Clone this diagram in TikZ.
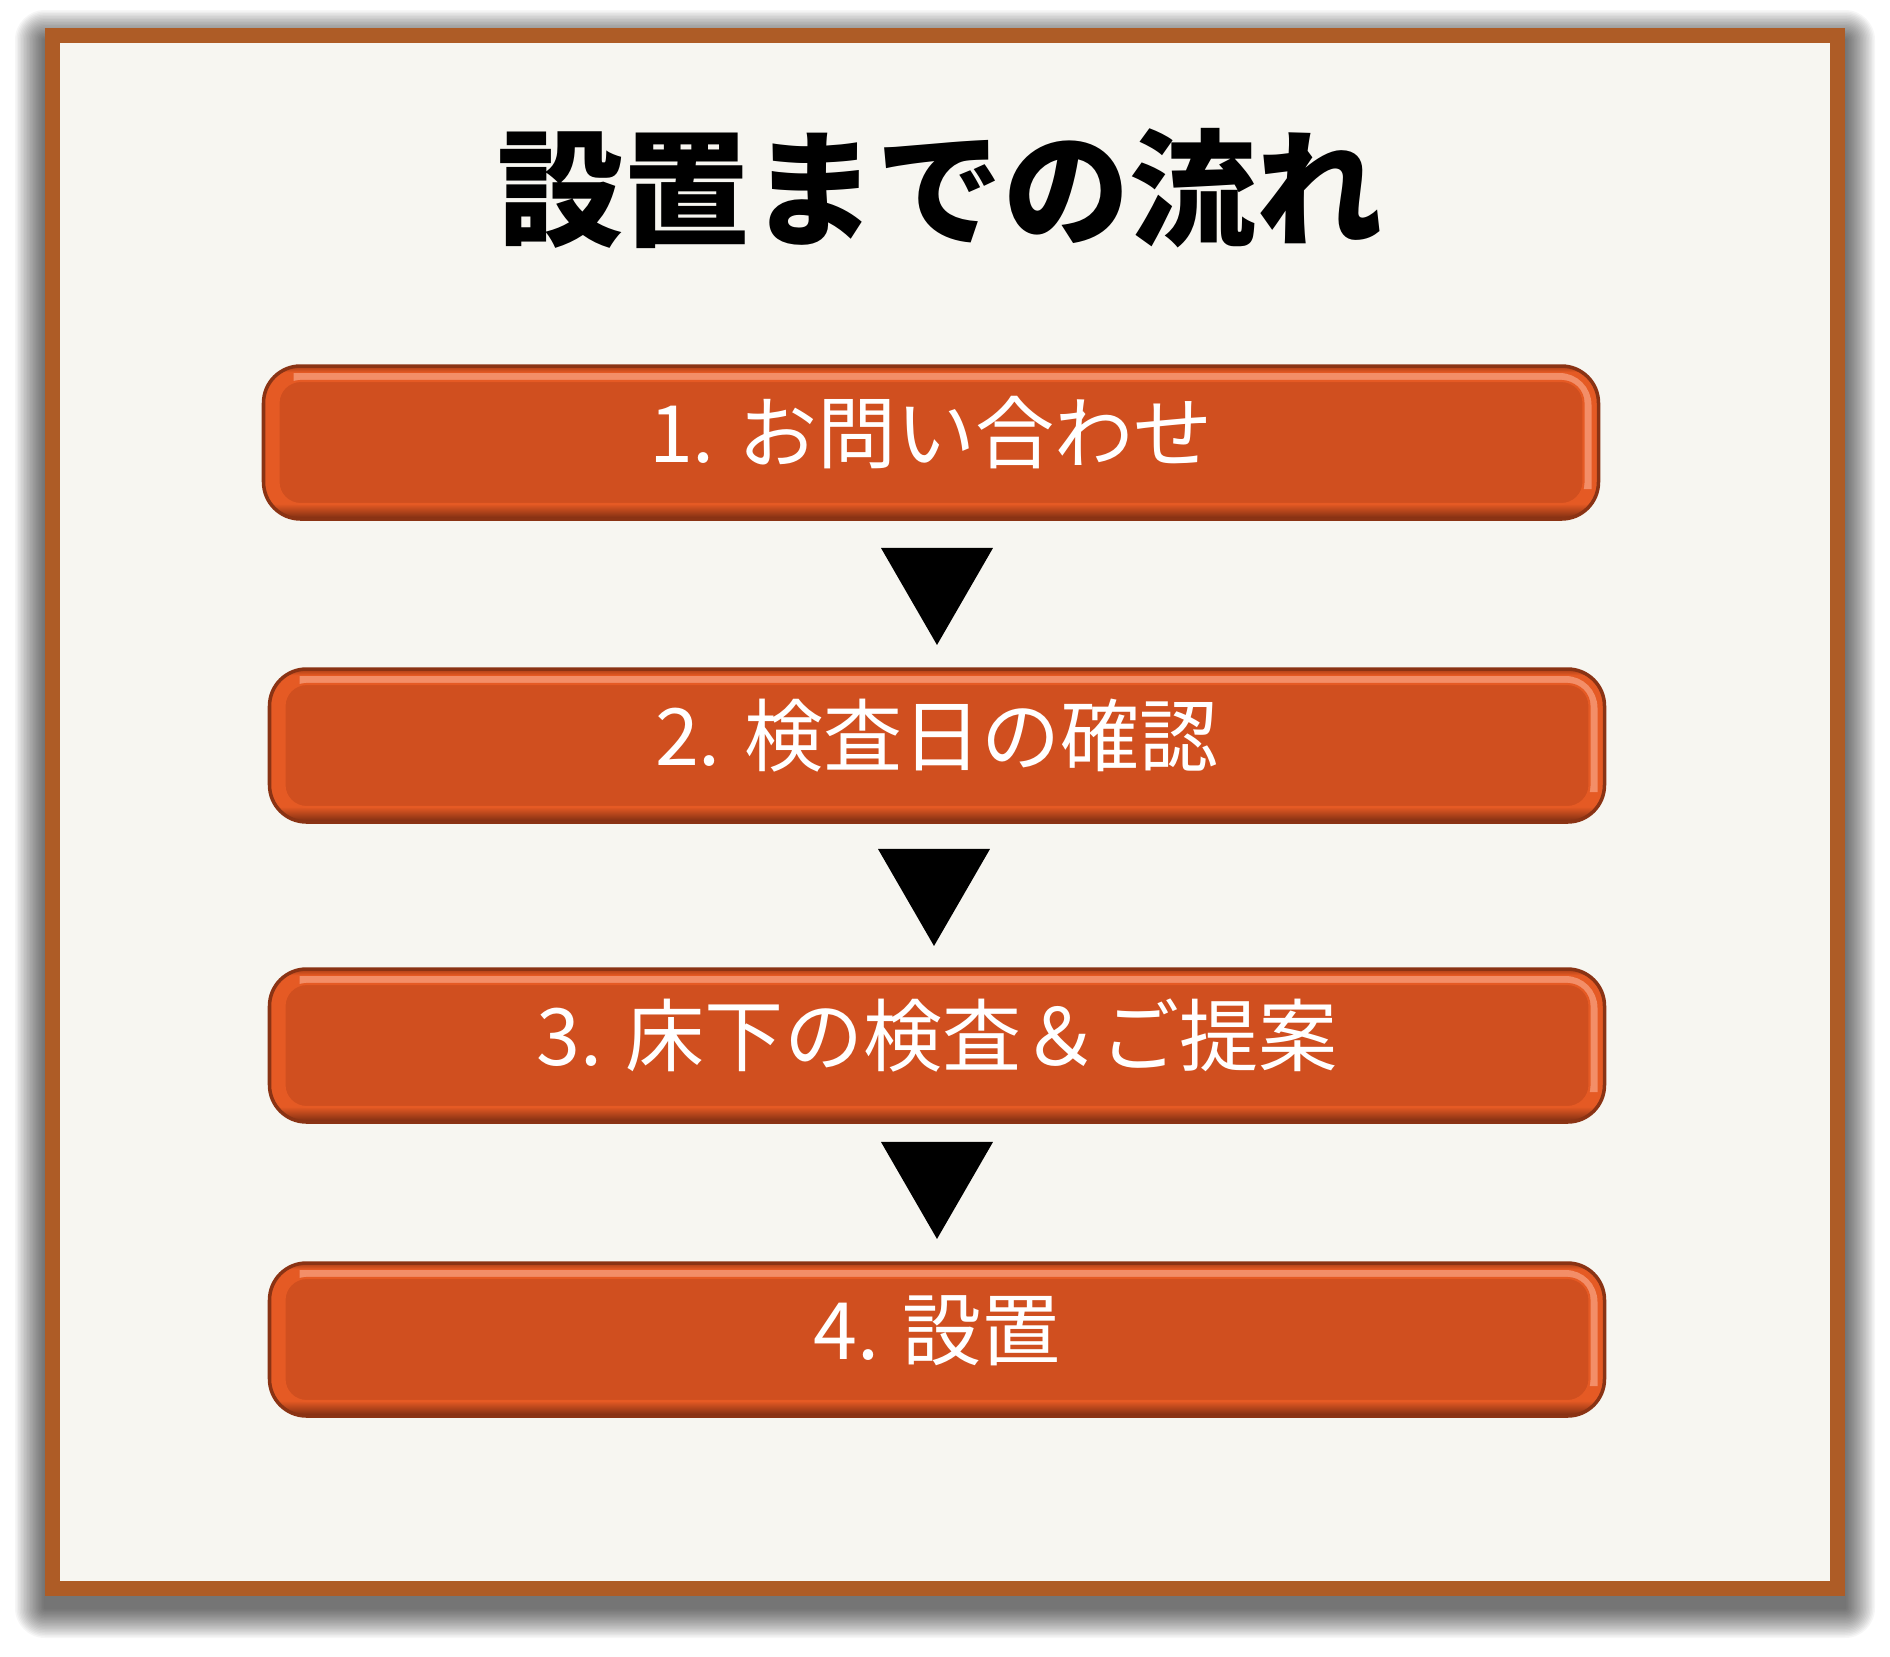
\documentclass[tikz,border=0pt]{standalone}
\usepackage{fontspec}
\setmainfont{Noto Sans CJK JP}
\usetikzlibrary{shapes.geometric}

\definecolor{framebrown}{HTML}{AE5C26}
\definecolor{paper}{HTML}{F7F6F1}
\definecolor{stepfill}{HTML}{D04F1F}
\definecolor{rimdark}{HTML}{7A2C11}
\definecolor{rimline}{HTML}{E55A24}
\definecolor{rimlight}{HTML}{F38E68}
\definecolor{rimtop}{HTML}{A93E16}
\pgfdeclareverticalshading{bevel}{100bp}{color(0bp)=(rimdark); color(25bp)=(rimdark); color(30bp)=(rimline); color(73bp)=(rimline); color(75bp)=(rimtop); color(100bp)=(rimtop)}

\tikzstyle{framestyle} = [rectangle,
minimum width=17.85cm,
minimum height=15.53cm,
draw=framebrown,
line width=0.15cm,
fill=paper]
\tikzstyle{titlestyle} = [anchor=base,
inner sep=0pt,
text=black,
font=\fontsize{36}{40}\selectfont\bfseries]
\tikzstyle{stepstyle} = [rectangle,
minimum width=13.35cm,
minimum height=1.53cm,
text centered,
text height=0.6cm,
text depth=0.2cm,
rounded corners=0.37cm,
shade,
shading=bevel,
draw=rimdark!85!rimline,
line width=1pt,
text=white,
font=\fontsize{22.5}{27}\selectfont,
path picture={
\draw [rimlight, line width=0.08cm, rounded corners=0.28cm]
 ([xshift=0.3cm, yshift=-0.11cm]path picture bounding box.north west)
 -- ([xshift=-0.11cm, yshift=-0.11cm]path picture bounding box.north east)
 -- ([xshift=-0.11cm, yshift=0.3cm]path picture bounding box.south east);
\draw [fill=stepfill, draw=rimline, line width=0.6pt, rounded corners=0.22cm]
 ([xshift=0.15cm, yshift=-0.15cm]path picture bounding box.north west)
 rectangle ([xshift=-0.15cm, yshift=0.15cm]path picture bounding box.south east);
}]
\tikzstyle{downstyle} = [regular polygon,
regular polygon sides=3,
shape border rotate=180,
minimum size=1.293cm,
inner sep=0pt,
fill=black]

\begin{document}
\begin{tikzpicture}[node distance=3cm]
\fill [white] (0,0) rectangle (18.9,-16.56);
\useasboundingbox (0,0) rectangle (18.9,-16.56);

\node (frame) [framestyle] at (9.45,-8.12) {};
% soft shadow under the frame
\foreach \s in {0.015,0.03,...,0.3}
  \fill [black, opacity=0.035, rounded corners=\s cm]
    ([xshift=-\s cm, yshift={(\s-0.12)*1cm}]frame.north west)
    rectangle ([xshift=\s cm, yshift={(-\s-0.12)*1cm}]frame.south east);
\node (frame) [framestyle] at (9.45,-8.12) {};

\node (title) [titlestyle] at (9.40,-2.36) {設置までの流れ};

\node (step1) [stepstyle] at (9.31,-4.425) {1. お問い合わせ};

\node (step2) [stepstyle, below of=step1, xshift=0.06cm, yshift=-0.03cm] {2. 検査日の確認};

\node (step3) [stepstyle, below of=step2] {3. 床下の検査＆ご提案};

\node (step4) [stepstyle, below of=step3, yshift=0.06cm] {4. 設置};

\node (down1) [downstyle, below of=step1, xshift=0.06cm, yshift=1.622cm] {};
\node (down2) [downstyle, below of=step2, xshift=-0.03cm, yshift=1.642cm] {};
\node (down3) [downstyle, below of=step3, yshift=1.712cm] {};
\end{tikzpicture}
\end{document}
